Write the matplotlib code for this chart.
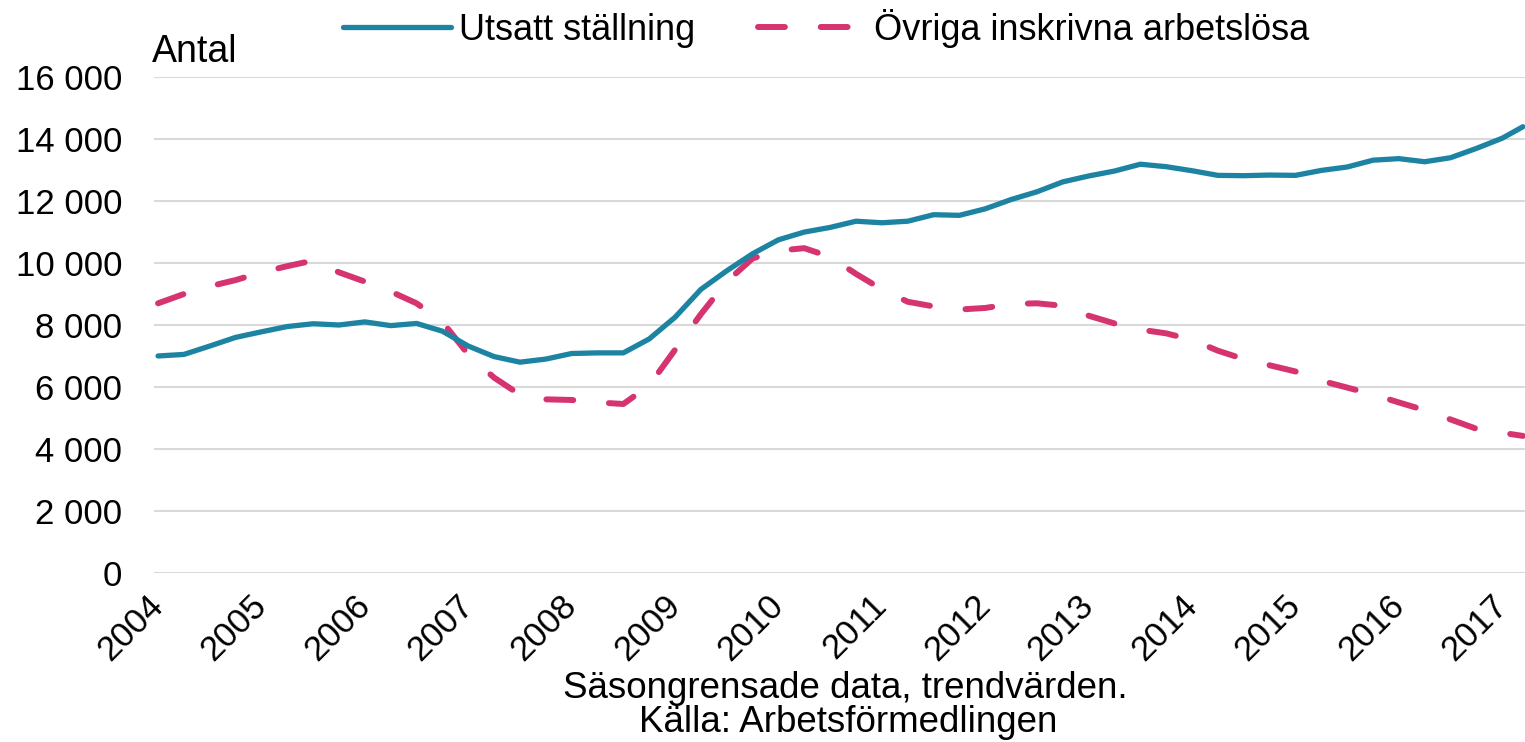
import matplotlib
matplotlib.use('Agg')
import matplotlib.pyplot as plt
from matplotlib.ticker import FuncFormatter

plt.rcParams['font.family'] = ['Liberation Sans', 'DejaVu Sans']

# quarterly readings (decimal year), trend values
years = [2004.00, 2004.25, 2004.50, 2004.75, 2005.00, 2005.25, 2005.50, 2005.75,
         2006.00, 2006.25, 2006.50, 2006.75, 2007.00, 2007.25, 2007.50, 2007.75,
         2008.00, 2008.25, 2008.50, 2008.75, 2009.00, 2009.25, 2009.50, 2009.75,
         2010.00, 2010.25, 2010.50, 2010.75, 2011.00, 2011.25, 2011.50, 2011.75,
         2012.00, 2012.25, 2012.50, 2012.75, 2013.00, 2013.25, 2013.50, 2013.75,
         2014.00, 2014.25, 2014.50, 2014.75, 2015.00, 2015.25, 2015.50, 2015.75,
         2016.00, 2016.25, 2016.50, 2016.75, 2017.00, 2017.20]

utsatt = [7000, 7050, 7320, 7600, 7780, 7950, 8040, 8000,
          8100, 7980, 8050, 7800, 7320, 6980, 6800, 6900,
          7080, 7100, 7100, 7550, 8250, 9150, 9750, 10300,
          10750, 11000, 11150, 11350, 11300, 11350, 11560, 11540,
          11750, 12050, 12300, 12620, 12810, 12970, 13190, 13110,
          12980, 12830, 12820, 12840, 12830, 12990, 13100, 13320,
          13370, 13270, 13400, 13700, 14030, 14400]

ovriga = [8700, 9000, 9250, 9450, 9700, 9900, 10080, 9700,
          9400, 9080, 8700, 8100, 7050, 6300, 5750, 5600,
          5580, 5500, 5450, 6050, 7200, 8350, 9400, 10150,
          10400, 10480, 10200, 9650, 9150, 8750, 8600, 8500,
          8550, 8680, 8700, 8620, 8300, 8050, 7850, 7730,
          7520, 7170, 6900, 6700, 6500, 6200, 5980, 5760,
          5500, 5250, 4950, 4650, 4520, 4420]

year_ticks = list(range(2004, 2018))
y_ticks = list(range(0, 16001, 2000))

blue = '#1c84a2'
pink = '#d63471'

fig = plt.figure(figsize=(15.25, 7.42), dpi=100)
ax = fig.add_axes([0.101, 0.228, 0.899, 0.668])

ax.plot(years, utsatt, color=blue, lw=3.8, solid_capstyle='round',
        solid_joinstyle='round', label='Utsatt ställning', zorder=3)
ax.plot(years, ovriga, color=pink, lw=4.3, linestyle=(0, (4.5, 6.0)),
        dash_capstyle='round', dash_joinstyle='round',
        label='Övriga inskrivna arbetslösa', zorder=2)

ax.set_xlim(2003.961, 2017.22)
ax.set_ylim(0, 16000)
ax.set_yticks(y_ticks)
ax.yaxis.set_major_formatter(FuncFormatter(lambda v, p: f'{int(v):,}'.replace(',', ' ')))
ax.set_xticks(year_ticks)
ax.set_xticklabels([str(y) for y in year_ticks], rotation=45, ha='right',
                   va='center', rotation_mode='anchor')
ax.tick_params(axis='y', length=0, pad=23, labelsize=25)
ax.tick_params(axis='x', length=0, pad=20, labelsize=25)
ax.grid(axis='y', color='#d9d9d9', lw=1.5)
ax.set_axisbelow(True)
for s in ax.spines.values():
    s.set_visible(False)

fig.text(152 / 1525, 1 - 52 / 742, 'Antal', fontsize=27, ha='left', va='center')
fig.text(845 / 1525, 1 - 688 / 742, 'Säsongrensade data, trendvärden.',
         fontsize=26.5, ha='center', va='center')
fig.text(848 / 1525, 1 - 723 / 742, 'Källa: Arbetsförmedlingen',
         fontsize=26.5, ha='center', va='center')

fig.legend(loc='center', bbox_to_anchor=(826 / 1525, 1 - 28 / 742), ncol=2,
           frameon=False, fontsize=26, handlelength=3.0, handletextpad=0.2,
           columnspacing=1.75)

fig.savefig('out.png', dpi=100)
